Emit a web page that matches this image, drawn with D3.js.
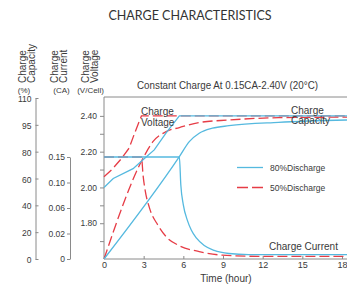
<!DOCTYPE html>
<html>
<head>
<meta charset="utf-8">
<script src="https://cdn.jsdelivr.net/npm/d3@7"></script>
<style>
  body { margin: 0; background: #fff; }
  svg { display: block; font-family: "Liberation Sans", Arial, sans-serif; }
</style>
</head>
<body>
<div id="chart"></div>
<script>
// tick values
let hourTicks = [0, 3, 6, 9, 12, 15, 18];
let voltTicks = [1.8, 2.0, 2.2, 2.4];
let voltMinor = [1.7, 1.9, 2.1, 2.3];
let capTicks = [0, 20, 40, 60, 80, 95, 110];
let curTicks = [0, 0.02, 0.06, 0.10, 0.15];

// [hour, value]
let voltage80 = [[0, 2.00], [0.7, 2.05], [2.2, 2.105], [2.95, 2.155], [3.8, 2.21], [4.7, 2.305], [5.7, 2.40], [18.4, 2.40]];
let voltage50 = [[0, 2.06], [0.6, 2.10], [1.3, 2.16], [1.9, 2.22], [2.3, 2.30], [2.83, 2.40], [18.4, 2.40]];
let current80 = [[0, 0.15], [5.7, 0.15], [5.81, 0.096], [6.0, 0.065], [6.3, 0.041], [6.6, 0.0255], [6.98, 0.0165],
  [7.58, 0.0106], [8.33, 0.0067], [9.45, 0.0043], [10.95, 0.0035], [18.4, 0.0035]];
let current50 = [[0, 0.15], [2.83, 0.15], [2.96, 0.113], [3.11, 0.088], [3.45, 0.0595], [4.07, 0.0333], [4.7, 0.0175],
  [5.7, 0.0104], [7.2, 0.0058], [8.95, 0.003], [11.7, 0.0021], [18.4, 0.002]];
let capacity80 = [[0, 0], [5.7, 76.3], [6.45, 85.6], [7.2, 90.3], [8.2, 93.1], [9.45, 94.5], [13.2, 96.4], [18.4, 97.7]];
let capacity50 = [[0, 0], [3.08, 77.5], [3.7, 85.6], [4.7, 91.2], [5.7, 93.5], [7.2, 96.3], [9.45, 97.7], [13.2, 99.0], [18.4, 99.3]];

let blue = "#55b9df";
let red = "#e63c46";
let axisGray = "#8a8a8a";
let textCol = "#3a3a3a";

let svg = d3.select("#chart").append("svg")
  .attr("width", 347)
  .attr("height", 284);

let plotLeft = 104, plotRight = 347, plotTop = 97, plotBottom = 259;

let x = d3.scaleLinear().domain([0, 18]).range([plotLeft, 342]);
let yV = d3.scaleLinear().domain([1.6, 2.5]).range([plotBottom, 98]);
// capacity and current axes have evenly spaced ticks with uneven labels
let yCap = d3.scaleLinear().domain(capTicks).range(capTicks.map((d, i) => plotBottom - i * (161 / 6)));
let yCur = d3.scaleLinear().domain(curTicks).range(curTicks.map((d, i) => plotBottom - i * 25.5));

// title
svg.append("text")
  .attr("x", 190).attr("y", 20)
  .attr("text-anchor", "middle")
  .style("font-family", "Lato, 'Open Sans', sans-serif")
  .style("font-size", "12.5px")
  .attr("fill", "#333")
  .text("CHARGE CHARACTERISTICS");

// subtitle
svg.append("text")
  .attr("x", 137).attr("y", 89)
  .attr("textLength", 181).attr("lengthAdjust", "spacingAndGlyphs")
  .style("font-size", "10.5px")
  .attr("fill", textCol)
  .text("Constant Charge At 0.15CA-2.40V  (20°C)");

// rotated axis headers
let headers = [
  {lines: ["Charge", "Capacity"], xs: [26, 34.5], unit: "(%)", ux: 24},
  {lines: ["Charge", "Current"], xs: [58, 67], unit: "(CA)", ux: 61.5},
  {lines: ["Charge", "Voltage"], xs: [88.5, 97.5], unit: "(V/Cell)", ux: 90.5}
];
headers.forEach(h => {
  h.lines.forEach((t, i) => {
    svg.append("text")
      .attr("transform", `translate(${h.xs[i]},83) rotate(-90)`)
      .style("font-size", "10px")
      .attr("fill", textCol)
      .text(t);
  });
  svg.append("text")
    .attr("x", h.ux).attr("y", 92.5)
    .attr("text-anchor", "middle")
    .style("font-size", "8px")
    .attr("fill", textCol)
    .text(h.unit);
});

function styleAxis(g) {
  g.attr("color", textCol);
  g.selectAll("line").attr("stroke", axisGray);
  g.selectAll("path").attr("stroke", axisGray);
  g.selectAll("text").style("font-size", "8.5px").style("font-family", "'Liberation Sans', Arial, sans-serif");
}

// capacity axis
let capAxis = svg.append("g")
  .attr("transform", "translate(35.5,0)")
  .call(d3.axisLeft(yCap).tickValues(capTicks).tickSize(-3).tickSizeOuter(0).tickPadding(4).tickFormat(d => d));
styleAxis(capAxis);
capAxis.selectAll(".tick text").attr("dy", "0.42em");

// current axis
let curAxis = svg.append("g")
  .attr("transform", "translate(70,0)")
  .call(d3.axisLeft(yCur).tickValues(curTicks).tickSize(3).tickSizeOuter(0).tickPadding(2)
    .tickFormat(d => d === 0 ? "0" : d3.format(".2f")(d)));
styleAxis(curAxis);

// voltage axis
let vAxis = svg.append("g")
  .attr("transform", `translate(${plotLeft},0)`)
  .call(d3.axisLeft(yV).tickValues(voltTicks).tickSize(4).tickPadding(3).tickFormat(d3.format(".2f")));
vAxis.select(".domain").remove();
styleAxis(vAxis);
let vMinor = svg.append("g")
  .attr("transform", `translate(${plotLeft},0)`)
  .call(d3.axisLeft(yV).tickValues(voltMinor).tickSize(4).tickFormat(""));
vMinor.select(".domain").remove();
styleAxis(vMinor);

// time axis
let xAxis = svg.append("g")
  .attr("transform", `translate(0,${plotBottom})`)
  .call(d3.axisBottom(x).tickValues(hourTicks).tickSize(-3).tickPadding(2.5));
xAxis.select(".domain").remove();
styleAxis(xAxis);
xAxis.selectAll("text").style("font-size", "9px");

svg.append("text")
  .attr("x", 226).attr("y", 282)
  .attr("text-anchor", "middle")
  .style("font-size", "10px")
  .attr("fill", textCol)
  .text("Time (hour)");

// plot frame
svg.append("path")
  .attr("d", `M${plotRight},${plotTop}H${plotLeft}V${plotBottom}H${plotRight}`)
  .attr("fill", "none")
  .attr("stroke", axisGray)
  .attr("stroke-width", 1);

function drawLine(data, yScale, color, dashed, curve) {
  svg.append("path")
    .datum(data)
    .attr("fill", "none")
    .attr("stroke", color)
    .attr("stroke-width", 1.3)
    .attr("stroke-dasharray", dashed ? "10,4" : null)
    .attr("d", d3.line().x(d => x(d[0])).y(d => yScale(d[1])).curve(curve));
}

// 50% discharge (red dashed) underneath
drawLine(capacity50, yCap, red, true, d3.curveMonotoneX);
drawLine(current50, yCur, red, true, d3.curveMonotoneX);
drawLine(voltage50, yV, red, true, d3.curveLinear);
// 80% discharge (blue solid)
drawLine(capacity80, yCap, blue, false, d3.curveMonotoneX);
drawLine(current80, yCur, blue, false, d3.curveMonotoneX);
drawLine(voltage80, yV, blue, false, d3.curveLinear);

// curve labels
function label(lines, lx, ly, size) {
  lines.forEach((t, i) => {
    svg.append("text")
      .attr("x", lx).attr("y", ly + i * 10.5)
      .style("font-size", size)
      .attr("fill", textCol)
      .text(t);
  });
}
label(["Charge", "Voltage"], 141, 115, "10px");
label(["Charge", "Capacity"], 291, 113.5, "10px");
label(["Charge Current"], 269, 249.5, "10px");

// legend
let legend = [
  {name: "80%Discharge", color: blue, dashed: false, y: 167.5},
  {name: "50%Discharge", color: red, dashed: true, y: 187.5}
];
legend.forEach(l => {
  svg.append("line")
    .attr("x1", 237).attr("x2", 263)
    .attr("y1", l.y).attr("y2", l.y)
    .attr("stroke", l.color)
    .attr("stroke-width", 1.3)
    .attr("stroke-dasharray", l.dashed ? "11,4" : null);
  svg.append("text")
    .attr("x", 270).attr("y", l.y + 3)
    .style("font-size", "8.5px")
    .attr("fill", textCol)
    .text(l.name);
});
</script>
</body>
</html>
